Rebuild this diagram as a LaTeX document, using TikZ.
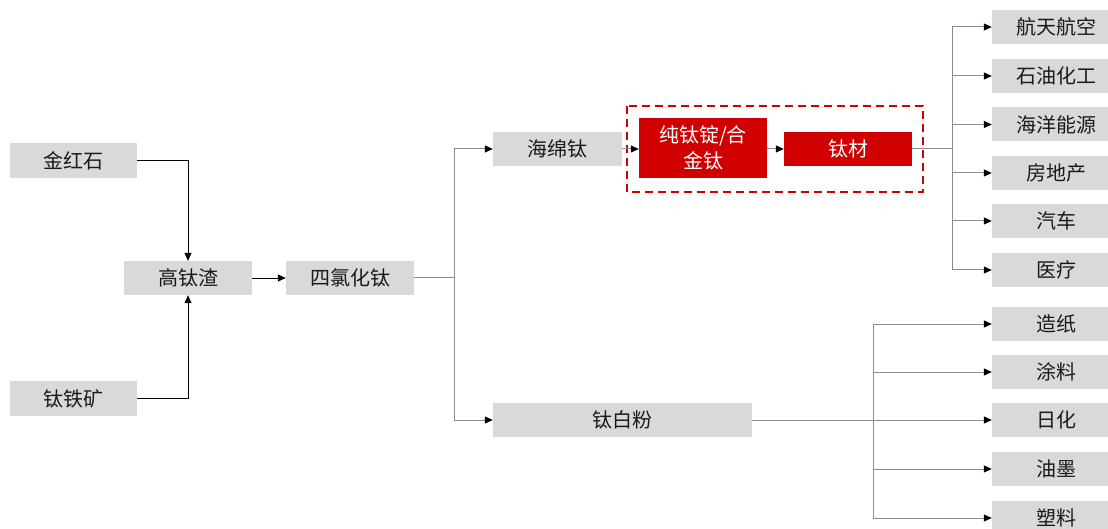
\documentclass[tikz,border=0pt]{standalone}
\usepackage{fontspec}
\setmainfont{Noto Sans CJK SC}
\usetikzlibrary{arrows.meta}
\definecolor{boxgray}{HTML}{D9D9D9}
\definecolor{boxred}{HTML}{D00000}
\definecolor{linegray}{HTML}{8C8C8C}
\definecolor{txt}{HTML}{1A1A1A}
\tikzset{
  gbox/.style={fill=boxgray, text=txt, minimum width=128pt, minimum height=34pt, inner sep=0pt, font=\fontsize{20}{24}\selectfont},
  rbox/.style={fill=boxred, text=white, minimum width=128pt, minimum height=34pt, inner sep=0pt, align=center, font=\fontsize{20}{26}\selectfont},
  tip/.style={-{Triangle[length=8pt,width=7pt]}},
  bline/.style={black, line width=0.9pt, tip},
  gline/.style={linegray, line width=1pt},
  garrow/.style={gline, -{Triangle[length=8pt,width=7pt,fill=black,color=black]}},
}
\begin{document}
\begin{tikzpicture}[x=1pt,y=-1pt]
\useasboundingbox (0,0) rectangle (1108,529);
\fill[white] (0,0) rectangle (1108,529);

\node[gbox, minimum width=127pt, minimum height=35pt] (jhs) at (73.5,160.5) {金红石};
\node[gbox, minimum width=127pt, minimum height=35pt] (tty) at (73.5,398.5) {钛铁矿};
\node[gbox] (gtz) at (188,278) {高钛渣};
\node[gbox] (slht) at (350,278) {四氯化钛};
\node[gbox, minimum width=129pt] (hmt) at (557.5,149) {海绵钛};
\node[rbox, minimum height=60pt] (ctd) at (703,148) {纯钛锭/合\\金钛};
\node[rbox] (tc) at (848,149) {钛材};
\node[gbox, minimum width=259pt] (tbf) at (622.5,420) {钛白粉};

\node[gbox] (r1) at (1056,27) {航天航空};
\node[gbox] (r2) at (1056,76) {石油化工};
\node[gbox] (r3) at (1056,124.5) {海洋能源};
\node[gbox] (r4) at (1056,173) {房地产};
\node[gbox] (r5) at (1056,221) {汽车};
\node[gbox] (r6) at (1056,270) {医疗};

\node[gbox] (s1) at (1056,324) {造纸};
\node[gbox] (s2) at (1056,372) {涂料};
\node[gbox] (s3) at (1056,420) {日化};
\node[gbox] (s4) at (1056,469) {油墨};
\node[gbox] (s5) at (1056,518) {塑料};

\draw[boxred, line width=2pt, dash pattern=on 8pt off 5pt] (627,106) rectangle (923,192);

% left part
\draw[bline] (jhs.east) -| (gtz.north);
\draw[bline] (tty.east) -| (gtz.south);
\draw[bline] (gtz.east) -- (slht.west);

% branch after TiCl4
\coordinate (b1) at (454,278);
\draw[gline] (slht.east) -- (b1);
\draw[garrow] (b1) |- (hmt.west);
\draw[garrow] (b1) |- (tbf.west);

\draw[garrow] (hmt.east) -- (hmt.east -| ctd.west);
\draw[garrow] (tc.west -| ctd.east) -- (tc.west);

% right upper branch
\coordinate (b2) at (952,149);
\draw[gline] (tc.east) -- (b2);
\foreach \n in {r1,r2,r3,r4,r5,r6} \draw[garrow] (b2) |- (\n.west);

% right lower branch
\coordinate (b3) at (873,420);
\draw[gline] (tbf.east) -- (b3);
\foreach \n in {s1,s2,s3,s4,s5} \draw[garrow] (b3) |- (\n.west);
\end{tikzpicture}
\end{document}
